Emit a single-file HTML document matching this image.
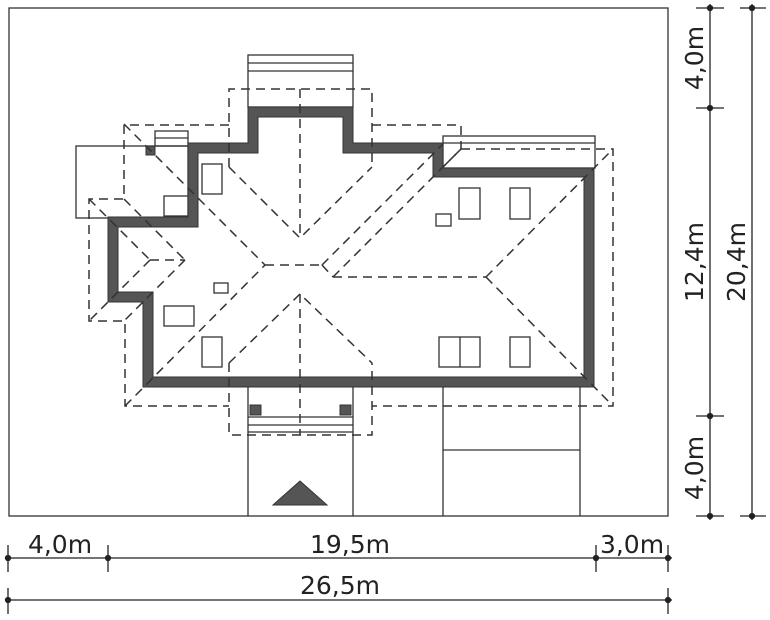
<!DOCTYPE html>
<html><head><meta charset="utf-8"><style>
html,body{margin:0;padding:0;background:#fff;}
svg{display:block;}
text{font-family:"DejaVu Sans","Liberation Sans",sans-serif;font-size:25px;fill:#222;}
</style></head><body>
<svg width="770" height="620" viewBox="0 0 770 620" xmlns="http://www.w3.org/2000/svg">
<g stroke="#333" stroke-width="1.3" fill="none">
<rect x="9" y="8" width="659" height="508"/>
<rect x="248" y="55" width="105" height="52"/>
<line x1="248" y1="63" x2="353" y2="63"/><line x1="248" y1="71" x2="353" y2="71"/>
<rect x="155" y="131" width="33" height="15"/><line x1="155" y1="138" x2="188" y2="138"/>
<rect x="76" y="146" width="112" height="72"/>
<rect x="164" y="196" width="30" height="20"/>
<rect x="443" y="136" width="152" height="32"/><line x1="443" y1="143" x2="595" y2="143"/>
<rect x="202" y="164" width="20" height="30"/>
<rect x="214" y="283" width="14" height="10"/>
<rect x="164" y="306" width="30" height="20"/>
<rect x="202" y="337" width="20" height="30"/>
<rect x="459" y="188" width="21" height="31"/>
<rect x="510" y="188" width="20" height="31"/>
<rect x="436" y="214" width="15" height="12"/>
<rect x="439" y="337" width="41" height="30"/><line x1="460" y1="337" x2="460" y2="367"/>
<rect x="510" y="337" width="20" height="30"/>
<line x1="248" y1="387" x2="248" y2="516"/><line x1="353" y1="387" x2="353" y2="516"/>
<line x1="248" y1="417" x2="353" y2="417"/><line x1="248" y1="425" x2="353" y2="425"/><line x1="248" y1="432" x2="353" y2="432"/>
<line x1="443" y1="387" x2="443" y2="516"/><line x1="580" y1="387" x2="580" y2="516"/>
<line x1="443" y1="450" x2="580" y2="450"/>
</g>
<path fill="#555" stroke="#333" stroke-width="1" fill-rule="evenodd" d="M443,143 L443,168 L594,168 L594,387 L143,387 L143,302 L108,302 L108,217 L188,217 L188,143 L248,143 L248,107 L353,107 L353,143 Z M258,117 L343,117 L343,153 L433,153 L433,177 L584,177 L584,377 L153,377 L153,292 L118,292 L118,227 L198,227 L198,153 L258,153 Z"/>
<g fill="#555" stroke="#333" stroke-width="1">
<rect x="146" y="146" width="9" height="9"/>
<rect x="250" y="405" width="11" height="10"/>
<rect x="340" y="405" width="11" height="10"/>
<polygon points="300,481 273,505 327,505"/>
</g>
<g stroke="#333" stroke-width="1.5" fill="none" stroke-dasharray="9,6">
<polyline points="229,167 229,89 372,89 372,167"/>
<line x1="300" y1="89" x2="300" y2="238"/>
<polyline points="229,167 300,238 372,167"/>
<polyline points="372,125 461,125 461,149"/>
<polyline points="229,125 124,125 124,199 89,199 89,321 125,321 125,406 229,406"/>
<line x1="124" y1="124" x2="265" y2="265"/>
<line x1="125" y1="406" x2="265" y2="265"/>
<line x1="124" y1="199" x2="185" y2="260"/>
<line x1="89" y1="199" x2="150" y2="260"/>
<line x1="150" y1="260" x2="185" y2="260"/>
<line x1="150" y1="260" x2="89" y2="321"/>
<line x1="185" y1="260" x2="125" y2="320"/>
<line x1="265" y1="265" x2="322" y2="265"/>
<line x1="322" y1="265" x2="333" y2="277"/>
<line x1="322" y1="265" x2="443" y2="144"/>
<line x1="333" y1="277" x2="461" y2="149"/>
<line x1="461" y1="149" x2="443" y2="167"/>
<line x1="333" y1="277" x2="486" y2="277"/>
<polyline points="461,149 613,149 613,406 372,406"/>
<line x1="486" y1="277" x2="613" y2="149"/>
<line x1="486" y1="277" x2="613" y2="406"/>
<polyline points="229,363 229,435 372,435 372,363"/>
<polyline points="229,363 300,294 372,363"/>
<line x1="300" y1="294" x2="300" y2="435"/>
</g>
<g stroke="#222" stroke-width="1.3" fill="#222">
<line x1="6" y1="558" x2="672" y2="558"/>
<line x1="8" y1="545" x2="8" y2="572"/><line x1="108" y1="545" x2="108" y2="572"/>
<line x1="596" y1="545" x2="596" y2="572"/><line x1="668" y1="545" x2="668" y2="572"/>
<circle cx="8" cy="558" r="2.5"/><circle cx="108" cy="558" r="2.5"/><circle cx="596" cy="558" r="2.5"/><circle cx="668" cy="558" r="2.5"/>
<line x1="6" y1="600" x2="672" y2="600"/>
<line x1="8" y1="588" x2="8" y2="614"/><line x1="668" y1="588" x2="668" y2="614"/>
<circle cx="8" cy="600" r="2.5"/><circle cx="668" cy="600" r="2.5"/>
<line x1="710" y1="4" x2="710" y2="520"/>
<line x1="696" y1="8" x2="724" y2="8"/><line x1="696" y1="108" x2="724" y2="108"/>
<line x1="696" y1="416" x2="724" y2="416"/><line x1="696" y1="516" x2="724" y2="516"/>
<circle cx="710" cy="8" r="2.5"/><circle cx="710" cy="108" r="2.5"/><circle cx="710" cy="416" r="2.5"/><circle cx="710" cy="516" r="2.5"/>
<line x1="752" y1="4" x2="752" y2="520"/>
<line x1="740" y1="8" x2="766" y2="8"/><line x1="740" y1="516" x2="766" y2="516"/>
<circle cx="752" cy="8" r="2.5"/><circle cx="752" cy="516" r="2.5"/>
</g>
<text x="60" y="553" text-anchor="middle">4,0m</text>
<text x="350" y="553" text-anchor="middle">19,5m</text>
<text x="632" y="553" text-anchor="middle">3,0m</text>
<text x="340" y="594" text-anchor="middle">26,5m</text>
<text transform="translate(703,58) rotate(-90)" text-anchor="middle">4,0m</text>
<text transform="translate(703,262) rotate(-90)" text-anchor="middle">12,4m</text>
<text transform="translate(745,262) rotate(-90)" text-anchor="middle">20,4m</text>
<text transform="translate(703,468) rotate(-90)" text-anchor="middle">4,0m</text>
</svg>
</body></html>
